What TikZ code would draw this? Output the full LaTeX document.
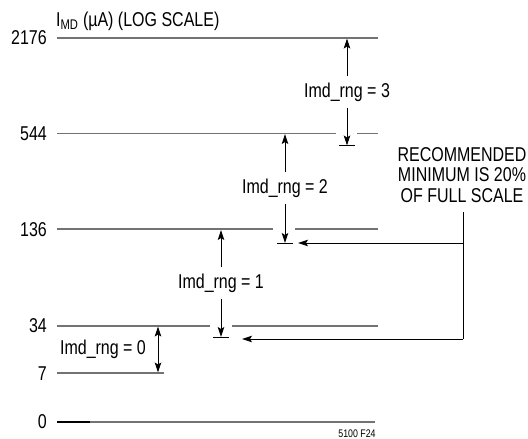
\documentclass[tikz,border=0pt]{standalone}
\usepackage{fontspec}
\setmainfont{Liberation Sans}[FakeStretch=0.8]
\usetikzlibrary{arrows.meta}
\definecolor{levelgray}{gray}{0.45}
\begin{document}
\begin{tikzpicture}[x=1pt,y=-1pt,
  lvl/.style={draw=levelgray,line width=1.8pt},
  headtip/.tip={Stealth[length=10pt,width=6.5pt,inset=2pt]},
  arr/.style={draw=black,line width=0.9pt,-headtip},
  dblarr/.style={draw=black,line width=0.9pt,headtip-headtip},
  tickmark/.style={draw=black,line width=0.9pt},
  lab/.style={font=\fontsize{20}{20.7}\selectfont,inner sep=0pt},
  rng/.style={font=\fontsize{20}{20.7}\selectfont,inner sep=6pt}]
\useasboundingbox (0,0) rectangle (528,439);

% level lines
\coordinate (a2176) at (57,38);  \coordinate (b2176) at (378,38);
\coordinate (a544) at (57,133.5); \coordinate (g544a) at (336,133.5);
\coordinate (g544b) at (357,133.5); \coordinate (b544) at (378,133.5);
\coordinate (a136) at (57,229.3); \coordinate (g136a) at (273,229.3);
\coordinate (g136b) at (295,229.3); \coordinate (b136) at (378,229.3);
\coordinate (a34) at (57,325.7); \coordinate (g34a) at (210,325.7);
\coordinate (g34b) at (232,325.7); \coordinate (b34) at (378,325.7);
\coordinate (a7) at (57,373.3); \coordinate (b7) at (164,373.3);
\coordinate (a0) at (57,421.7); \coordinate (m0) at (90,421.7); \coordinate (b0) at (375,421.7);

\draw[lvl] (a2176) -- (b2176);
\draw[lvl] (a544) -- (g544a); \draw[lvl] (g544b) -- (b544);
\draw[lvl] (a136) -- (g136a); \draw[lvl] (g136b) -- (b136);
\draw[lvl] (a34) -- (g34a); \draw[lvl] (g34b) -- (b34);
\draw[lvl] (a7) -- (b7);
\draw[lvl] (m0) -- (b0);
\draw[lvl,draw=black] (a0) -- (m0);

% value labels
\node[lab,anchor=east] (v2176) at (47,38) {2176};
\node[lab,anchor=east] (v544) at (47,133.5) {544};
\node[lab,anchor=east] (v136) at (47,229.3) {136};
\node[lab,anchor=east] (v34) at (47,325.7) {34};
\node[lab,anchor=east] (v7) at (47,373.3) {7};
\node[lab,anchor=east] (v0) at (47,421.7) {0};
\node[lab,anchor=base west] (hdr) at (56,26) {I\textsubscript{MD} (µA) (LOG SCALE)};

% range 3
\node[rng] (r3) at (347,92) {Imd\_rng = 3};
\coordinate (t3top) at (347,38.5);
\coordinate (t3bot) at (347,145.5);
\draw[arr] (r3.north) -- (t3top);
\draw[arr] (r3.south) -- (t3bot);
\draw[tickmark] ([xshift=-8pt]t3bot) -- ([xshift=8pt]t3bot);

% range 2
\node[rng] (r2) at (285,188) {Imd\_rng = 2};
\coordinate (t2top) at (285,134);
\coordinate (t2bot) at (285,243);
\draw[arr] (r2.north) -- (t2top);
\draw[arr] (r2.south) -- (t2bot);
\draw[tickmark] ([xshift=-8pt]t2bot) -- ([xshift=8pt]t2bot);

% range 1
\node[rng] (r1) at (221,283) {Imd\_rng = 1};
\coordinate (t1top) at (221,230);
\coordinate (t1bot) at (221,337);
\draw[arr] (r1.north) -- (t1top);
\draw[arr] (r1.south) -- (t1bot);
\draw[tickmark] ([xshift=-8pt]t1bot) -- ([xshift=8pt]t1bot);

% range 0
\node[rng] (r0) at (103,349.5) {Imd\_rng = 0};
\coordinate (t0top) at (158,326.5);
\coordinate (t0bot) at (158,372.5);
\draw[dblarr] (t0top) -- (t0bot);

% recommendation
\node[lab,align=center] (rec) at (462,175) {RECOMMENDED\\MINIMUM IS 20\%\\OF FULL SCALE};
\coordinate (rj1) at (463,212);
\coordinate (rj2) at (463,243);
\coordinate (rj3) at (463,339);
\coordinate (rt2) at (298,243);
\coordinate (rt1) at (242,339);
\draw[tickmark] (rj1) -- (rj3);
\draw[arr] (rj2) -- (rt2);
\draw[arr] (rj3) -- (rt1);

% figure number
\node[font=\fontsize{11}{12}\selectfont,inner sep=0pt] (fig) at (357,434) {5100 F24};
\end{tikzpicture}
\end{document}
